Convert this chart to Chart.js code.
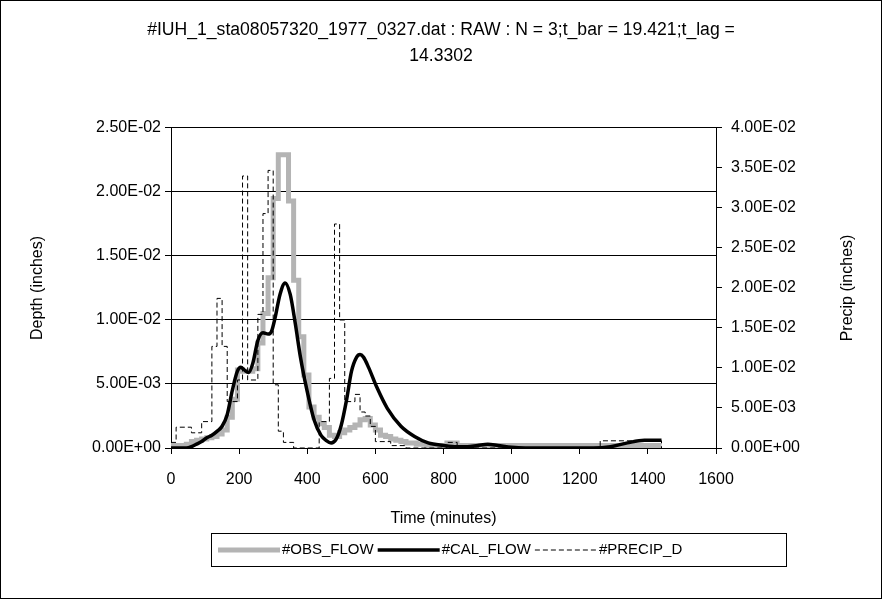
<!DOCTYPE html>
<html><head><meta charset="utf-8">
<script src="https://cdn.jsdelivr.net/npm/chart.js@4/dist/chart.umd.min.js"></script>
<style>
html,body{margin:0;padding:0;background:#fff;}
canvas{display:block;}
</style></head><body>
<canvas id="c" width="882" height="599"></canvas>
<script>
const FONT = '"Liberation Sans", Arial, sans-serif';
const titleLines = ['#IUH_1_sta08057320_1977_0327.dat : RAW : N = 3;t_bar = 19.421;t_lag =', '14.3302'];
const xTitle = 'Time (minutes)';
const yTitle = 'Depth (inches)';
const y1Title = 'Precip (inches)';
const seriesNames = ['#OBS_FLOW', '#CAL_FLOW', '#PRECIP_D'];
const xRange = [0, 1600, 200];
const yRange = [0, 0.025, 0.005];
const y1Range = [0, 0.04, 0.005];

// Observed flow (step start times, minutes) and depth (inches)
const obsTime  = [0, 45, 60, 75, 90, 105, 120, 135, 150, 165, 180, 195, 210, 240, 255, 270, 285, 300, 315, 345, 360, 375, 390, 405, 420, 435, 450, 465, 480, 495, 510, 525, 540, 555, 570, 585, 600, 615, 630, 645, 660, 675, 690, 720, 750, 810, 840, 1440];
const obsDepth = [0.0002, 0.0003, 0.0005, 0.0006, 0.0007, 0.0008, 0.0009, 0.0011, 0.0014, 0.0024, 0.0038, 0.0061, 0.0060, 0.0062, 0.0082, 0.0105, 0.0133, 0.0195, 0.0229, 0.0193, 0.0131, 0.0087, 0.0057, 0.0032, 0.0024, 0.0019, 0.0016, 0.0010, 0.0009, 0.0012, 0.0014, 0.0016, 0.0018, 0.0022, 0.0023, 0.0018, 0.0014, 0.0010, 0.0009, 0.0007, 0.0006, 0.0005, 0.0004, 0.0003, 0.0002, 0.0004, 0.0002, 0.0002];

// Calculated flow
const calTime  = [0, 45, 60, 75, 90, 105, 120, 135, 150, 165, 180, 195, 205, 215, 228, 240, 255, 270, 285, 295, 305, 320, 335, 350, 365, 380, 400, 420, 440, 455, 470, 485, 500, 515, 530, 545, 555, 565, 580, 605, 635, 675, 715, 755, 800, 840, 870, 900, 930, 960, 1000, 1040, 1240, 1290, 1340, 1390, 1440];
const calDepth = [0, 0, 0.0001, 0.0003, 0.0005, 0.0008, 0.0010, 0.0013, 0.0017, 0.0026, 0.0045, 0.0060, 0.0063, 0.0061, 0.0059, 0.0066, 0.0084, 0.0090, 0.0089, 0.0091, 0.0101, 0.0120, 0.0129, 0.0120, 0.0097, 0.0071, 0.0044, 0.0022, 0.0010, 0.0006, 0.0004, 0.0007, 0.0018, 0.0037, 0.0060, 0.0071, 0.0073, 0.0071, 0.0063, 0.0047, 0.0031, 0.0017, 0.0009, 0.0004, 0.0002, 0.0001, 0.0001, 0.0002, 0.0003, 0.0002, 0.00005, 0, 0, 0.0001, 0.0004, 0.0006, 0.0006];

// Precipitation (step start times) and depth (inches), secondary axis
const precipTime  = [0, 15, 60, 90, 120, 135, 150, 165, 195, 210, 225, 255, 270, 285, 300, 315, 330, 360, 435, 465, 480, 495, 510, 540, 555, 570, 585, 600, 645, 690, 810, 840, 1260, 1440];
const precipDepth = [0.0007, 0.0026, 0.0019, 0.0033, 0.0127, 0.0187, 0.0127, 0.0058, 0.0085, 0.0340, 0.0085, 0.0167, 0.0293, 0.0347, 0.0079, 0.0021, 0.0007, 0, 0.0033, 0.0087, 0.0280, 0.0160, 0.0058, 0.0067, 0.0045, 0.0040, 0.0027, 0.0008, 0.0003, 0, 0.0007, 0, 0.0009, 0];

function pts(xs, ys){ return xs.map((x,i)=>({x:x, y:ys[i]})); }
function sci(v){
  if (Math.abs(v) < 1e-12) return '0.00E+00';
  const parts = v.toExponential(2).split('e');
  const n = parseInt(parts[1], 10);
  return parts[0] + 'E' + (n < 0 ? '-' : '+') + String(Math.abs(n)).padStart(2, '0');
}
const f16 = {family: FONT, size: 16, weight: 'normal'};

const frame = {
  id: 'frame',
  beforeDraw(chart){
    const ctx = chart.ctx; ctx.save();
    ctx.fillStyle = '#fff'; ctx.fillRect(0,0,chart.width,chart.height);
    ctx.restore();
  },
  afterDraw(chart){
    const ctx = chart.ctx; ctx.save();
    ctx.strokeStyle = '#000'; ctx.lineWidth = 1;
    ctx.strokeRect(0.5, 0.5, chart.width - 1, chart.height - 1);
    // right axis title, reading bottom to top
    const ca = chart.chartArea;
    ctx.save();
    ctx.fillStyle = '#000';
    ctx.font = '16px ' + FONT;
    ctx.textAlign = 'center'; ctx.textBaseline = 'middle';
    ctx.translate(chart.scales.y1.right - 34, (ca.top + ca.bottom) / 2);
    ctx.rotate(-Math.PI / 2);
    ctx.fillText(y1Title, 0, 0);
    ctx.restore();
    // legend
    ctx.font = '15px ' + FONT;
    ctx.textBaseline = 'middle'; ctx.textAlign = 'left';
    const ds = chart.data.datasets;
    const boxLeft = ca.left + 40, boxRight = ca.right + 70;
    const top = chart.scales.x.bottom + 1, h = 33;
    ctx.strokeRect(Math.round(boxLeft) + 0.5, top + 0.5, Math.round(boxRight - boxLeft), h);
    const cy = top + h / 2 + 0.5;
    const sw = 62, gapText = 2, gapItem = 4;
    let x = boxLeft + 7;
    ds.forEach((d) => {
      ctx.save();
      ctx.strokeStyle = d.borderColor; ctx.lineWidth = d.borderWidth;
      ctx.setLineDash(d.borderDash || []);
      ctx.beginPath(); ctx.moveTo(x, cy); ctx.lineTo(x + sw, cy); ctx.stroke();
      ctx.restore();
      x += sw + gapText;
      ctx.fillStyle = '#000';
      ctx.fillText(d.label, x, cy);
      x += ctx.measureText(d.label).width + gapItem;
    });
    ctx.restore();
  }
};

new Chart(document.getElementById('c'), {
  type: 'line',
  data: {
    datasets: [
      {label: seriesNames[0], data: pts(obsTime, obsDepth), yAxisID: 'y', borderColor: '#b4b4b4', borderWidth: 5, stepped: true, pointRadius: 0, fill: false, order: 3},
      {label: seriesNames[1], data: pts(calTime, calDepth), yAxisID: 'y', borderColor: '#000', borderWidth: 3.5, cubicInterpolationMode: 'monotone', pointRadius: 0, fill: false, order: 2},
      {label: seriesNames[2], data: pts(precipTime, precipDepth), yAxisID: 'y1', borderColor: '#000', borderWidth: 1, borderDash: [5, 3], stepped: true, pointRadius: 0, fill: false, order: 1}
    ]
  },
  options: {
    responsive: false, animation: false, events: [],
    layout: {padding: {left: 0, right: 0, top: 0, bottom: 67}},
    plugins: {
      legend: {display: false},
      tooltip: {enabled: false},
      title: {display: true, text: titleLines, color: '#000', font: {family: FONT, size: 17.6, weight: 'normal', lineHeight: 1.477}, padding: {top: 17, bottom: 59}}
    },
    scales: {
      x: {
        type: 'linear', min: xRange[0], max: xRange[1],
        ticks: {stepSize: xRange[2], color: '#000', font: f16, padding: 16, maxRotation: 0, callback: v => String(v)},
        grid: {drawOnChartArea: false, tickLength: 6, color: '#000'},
        border: {color: '#000', width: 1},
        title: {display: true, text: xTitle, color: '#000', font: f16, padding: {top: 4, bottom: 4}},
        afterFit(s){ s.height = 84; }
      },
      y: {
        position: 'left', min: yRange[0], max: yRange[1],
        ticks: {stepSize: yRange[2], color: '#000', font: f16, padding: 4, callback: v => sci(v)},
        grid: {color: '#000', tickLength: 6},
        border: {color: '#000', width: 1},
        title: {display: true, text: yTitle, color: '#000', font: f16, padding: {top: 28, bottom: 0}},
        afterFit(s){ s.width = 171; }
      },
      y1: {
        position: 'right', min: y1Range[0], max: y1Range[1],
        ticks: {stepSize: y1Range[2], color: '#000', font: f16, padding: 9, callback: v => sci(v)},
        grid: {drawOnChartArea: false, tickLength: 6, color: '#000'},
        border: {color: '#000', width: 1},
        title: {display: false, text: y1Title},
        afterFit(s){ s.width = 166; }
      }
    }
  },
  plugins: [frame]
});
</script>
</body></html>
